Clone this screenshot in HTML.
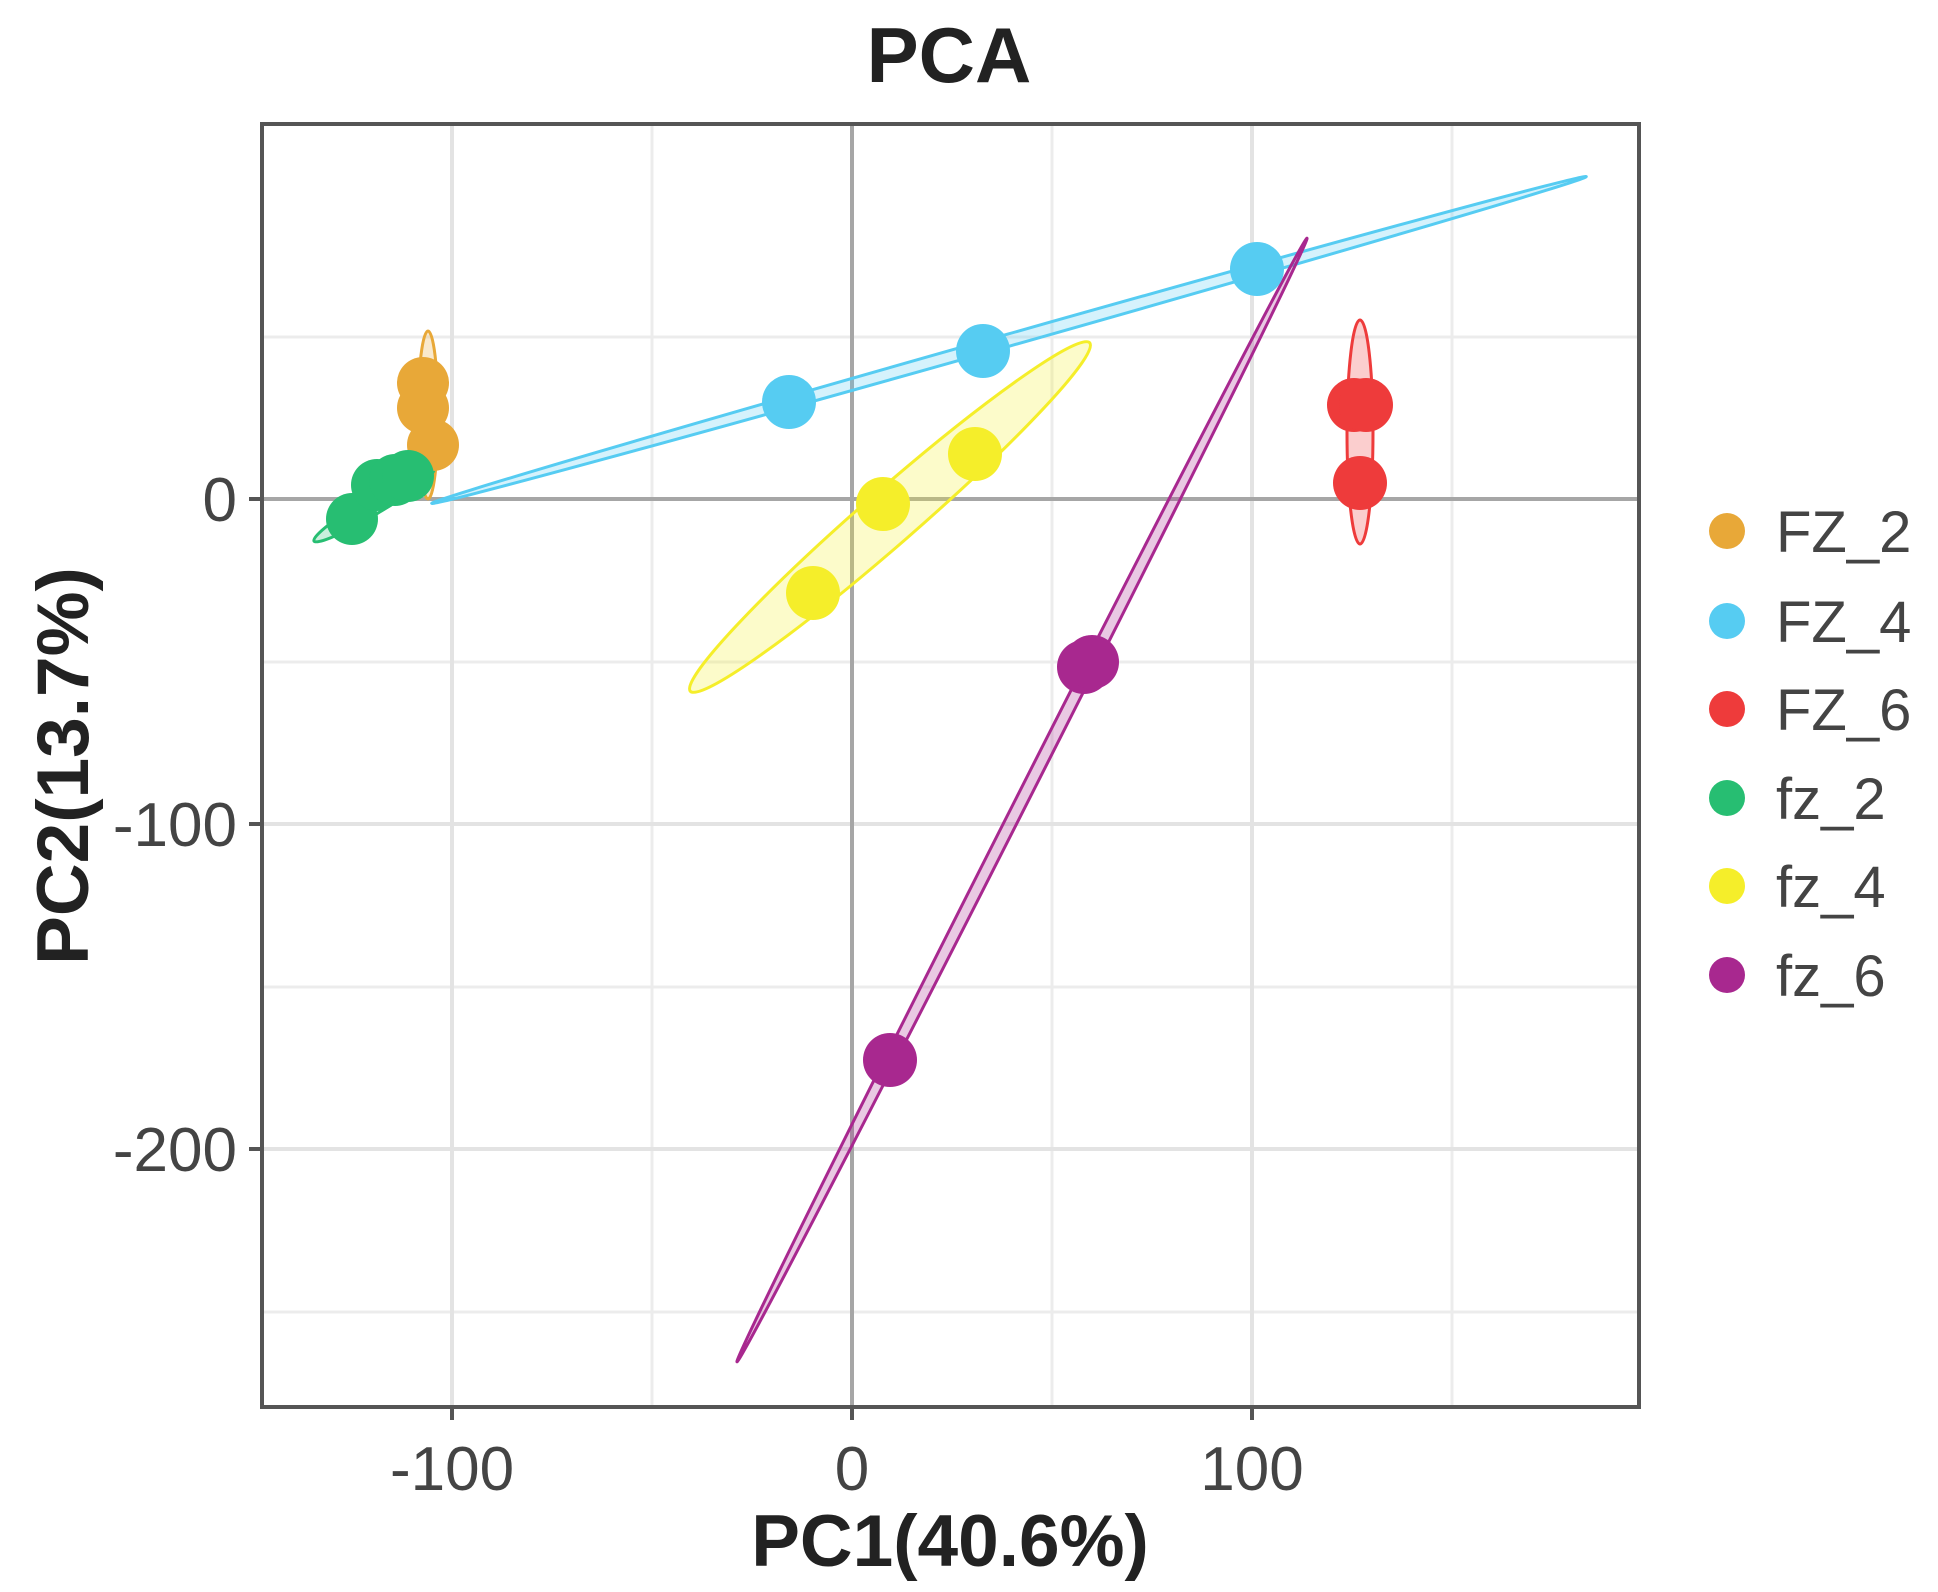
<!DOCTYPE html>
<html><head><meta charset="utf-8"><style>html,body{margin:0;padding:0;background:#fff}svg{display:block}</style></head>
<body>
<svg width="1938" height="1592" viewBox="0 0 1938 1592" xmlns="http://www.w3.org/2000/svg" font-family="Liberation Sans, Arial, sans-serif">
<rect width="1938" height="1592" fill="#fff"/>
<defs><clipPath id="p"><rect x="262" y="124" width="1377" height="1283"/></clipPath></defs>
<g stroke="#ececec" stroke-width="3">
<line x1="652" y1="124" x2="652" y2="1407"/><line x1="1052" y1="124" x2="1052" y2="1407"/><line x1="1452" y1="124" x2="1452" y2="1407"/>
<line x1="262" y1="337" x2="1639" y2="337"/><line x1="262" y1="662" x2="1639" y2="662"/><line x1="262" y1="987" x2="1639" y2="987"/><line x1="262" y1="1312" x2="1639" y2="1312"/>
</g>
<g stroke="#e3e3e3" stroke-width="4">
<line x1="452" y1="124" x2="452" y2="1407"/><line x1="1252" y1="124" x2="1252" y2="1407"/>
<line x1="262" y1="824" x2="1639" y2="824"/><line x1="262" y1="1149" x2="1639" y2="1149"/>
</g>
<g stroke="#a6a6a6" stroke-width="4">
<line x1="852" y1="124" x2="852" y2="1407"/><line x1="262" y1="499" x2="1639" y2="499"/>
</g>
<g clip-path="url(#p)" stroke-width="3">
<ellipse cx="428" cy="415" rx="10" ry="84" fill="#E8A838" fill-opacity="0.25" stroke="#E8A838"/>
<ellipse cx="0" cy="0" rx="70" ry="9" transform="translate(374,505) rotate(-31)" fill="#27BE72" fill-opacity="0.25" stroke="#27BE72"/>
<ellipse cx="0" cy="0" rx="600" ry="6" transform="translate(1009,340) rotate(-15.8)" fill="#56CCF2" fill-opacity="0.25" stroke="#56CCF2"/>
<ellipse cx="1360" cy="432" rx="13" ry="112" fill="#EE3B3B" fill-opacity="0.25" stroke="#EE3B3B"/>
<ellipse cx="0" cy="0" rx="265" ry="27" transform="translate(890,517) rotate(-41.1)" fill="#F5EE2A" fill-opacity="0.25" stroke="#F5EE2A"/>
<ellipse cx="0" cy="0" rx="630" ry="6" transform="translate(1022,800) rotate(-63.1)" fill="#A8288F" fill-opacity="0.25" stroke="#A8288F"/>
</g>
<g clip-path="url(#p)">
<g fill="#E8A838"><circle cx="423" cy="383" r="26"/><circle cx="423" cy="408" r="26"/><circle cx="433" cy="445" r="26"/></g>
<g fill="#27BE72"><circle cx="352" cy="519" r="26"/><circle cx="377" cy="485" r="26"/><circle cx="395" cy="480" r="26"/><circle cx="408" cy="476" r="26"/></g>
<g fill="#56CCF2"><circle cx="789" cy="402" r="27"/><circle cx="983" cy="351" r="27"/><circle cx="1257" cy="269" r="27"/></g>
<g fill="#EE3B3B"><circle cx="1354" cy="405" r="27"/><circle cx="1366" cy="405" r="27"/><circle cx="1360" cy="483" r="27"/></g>
<g fill="#F5EE2A"><circle cx="813" cy="593" r="27"/><circle cx="883" cy="504" r="27"/><circle cx="975" cy="454" r="27"/></g>
<g fill="#A8288F"><circle cx="1084" cy="667" r="27"/><circle cx="1092" cy="662" r="27"/><circle cx="890" cy="1060" r="27"/></g>
</g>
<rect x="262" y="124" width="1377" height="1283" fill="none" stroke="#555" stroke-width="4"/>
<g stroke="#555" stroke-width="4">
<line x1="452" y1="1407" x2="452" y2="1420"/><line x1="852" y1="1407" x2="852" y2="1420"/><line x1="1252" y1="1407" x2="1252" y2="1420"/>
<line x1="249" y1="499" x2="262" y2="499"/><line x1="249" y1="824" x2="262" y2="824"/><line x1="249" y1="1149" x2="262" y2="1149"/>
</g>
<g fill="#444" font-size="62" text-anchor="middle">
<text x="452" y="1490">-100</text><text x="852" y="1490">0</text><text x="1252" y="1490">100</text>
</g>
<g fill="#444" font-size="62" text-anchor="end">
<text x="237" y="521">0</text><text x="237" y="846">-100</text><text x="237" y="1171">-200</text>
</g>
<text x="949" y="82" font-size="78" font-weight="bold" text-anchor="middle" fill="#222">PCA</text>
<text x="950" y="1566" font-size="73" font-weight="bold" text-anchor="middle" fill="#222">PC1(40.6%)</text>
<text transform="translate(88,766) rotate(-90)" font-size="73" font-weight="bold" text-anchor="middle" fill="#222">PC2(13.7%)</text>
<g font-size="58" fill="#444">
<circle cx="1727" cy="531" r="18" fill="#E8A838"/><text x="1776" y="552">FZ_2</text>
<circle cx="1727" cy="621" r="18" fill="#56CCF2"/><text x="1776" y="642">FZ_4</text>
<circle cx="1727" cy="709" r="18" fill="#EE3B3B"/><text x="1776" y="730">FZ_6</text>
<circle cx="1727" cy="798" r="18" fill="#27BE72"/><text x="1776" y="819">fz_2</text>
<circle cx="1727" cy="886" r="18" fill="#F5EE2A"/><text x="1776" y="907">fz_4</text>
<circle cx="1727" cy="975" r="18" fill="#A8288F"/><text x="1776" y="996">fz_6</text>
</g>
</svg>
</body></html>
